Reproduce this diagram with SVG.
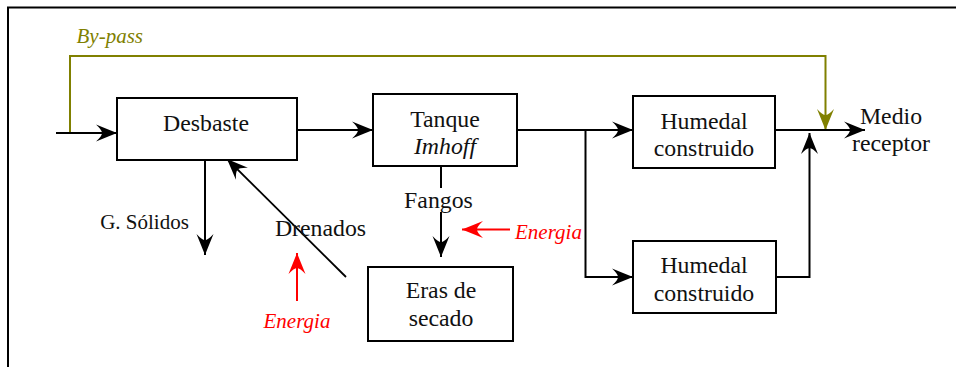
<svg xmlns="http://www.w3.org/2000/svg" width="956" height="367" viewBox="0 0 956 367">
<style>
  .box { fill: #fff; stroke: #000; stroke-width: 2; }
  .lbl { font-family: "Liberation Serif", "Times New Roman", serif; font-size: 23.8px; fill: #111; text-anchor: middle; }
  .it { font-style: italic; }
  .sm { font-size: 21px; }
  .line { fill: none; stroke: #000; stroke-width: 2; }
  .bp { fill: none; stroke: #808000; stroke-width: 2; }
  .red { fill: none; stroke: #ff0000; stroke-width: 2; }
  .energia { font-family: "Liberation Serif", "Times New Roman", serif; font-size: 21px; font-style: italic; fill: #ff0000; }
</style>
<defs>
  <marker id="ah" viewBox="-23 -10 24 20" markerWidth="24" markerHeight="20" refX="0" refY="0" orient="auto" markerUnits="userSpaceOnUse">
    <path d="M0,0 Q-10,-4 -21,-8.5 Q-15,-3 -15,0 Q-15,3 -21,8.5 Q-10,4 0,0 Z" fill="#000"/>
  </marker>
  <marker id="ahOlive" viewBox="-23 -10 24 20" markerWidth="24" markerHeight="20" refX="0" refY="0" orient="auto" markerUnits="userSpaceOnUse">
    <path d="M0,0 Q-10,-4 -21,-8.5 Q-15,-3 -15,0 Q-15,3 -21,8.5 Q-10,4 0,0 Z" fill="#808000"/>
  </marker>
  <marker id="ahRed" viewBox="-23 -10 24 20" markerWidth="24" markerHeight="20" refX="0" refY="0" orient="auto" markerUnits="userSpaceOnUse">
    <path d="M0,0 Q-10,-4 -21,-8.5 Q-15,-3 -15,0 Q-15,3 -21,8.5 Q-10,4 0,0 Z" fill="#ff0000"/>
  </marker>
</defs>

<rect width="956" height="367" fill="#fff"/>
<!-- frame -->
<path d="M8,367 V7.5 H956" fill="none" stroke="#000" stroke-width="2"/>

<g id="connectors">
  <!-- bypass -->
  <path class="bp" d="M70,133 V56 H825.5 V130" marker-end="url(#ahOlive)"/>
  <text x="76.5" y="43" class="lbl it sm" style="text-anchor:start; fill:#808000">By-pass</text>
  <!-- input -->
  <path class="line" d="M56,133 H117" marker-end="url(#ah)"/>
  <!-- Desbaste -> Tanque -->
  <path class="line" d="M297,130 H373" marker-end="url(#ah)"/>
  <!-- Tanque -> Humedal 1 -->
  <path class="line" d="M517,130 H633" marker-end="url(#ah)"/>
  <!-- branch to Humedal 2 -->
  <path class="line" d="M585.5,130 V277 H633" marker-end="url(#ah)"/>
  <!-- Humedal 1 -> Medio -->
  <path class="line" d="M775,130 H865" marker-end="url(#ah)"/>
  <!-- Humedal 2 -> join -->
  <path class="line" d="M776,277 H809.5 V133" marker-end="url(#ah)"/>
  <!-- Desbaste -> G. Solidos -->
  <path class="line" d="M205,160 V255" marker-end="url(#ah)"/>
  <text x="144.5" y="229" class="lbl sm">G. Sólidos</text>
  <!-- Drenados diagonal -->
  <path class="line" d="M346,277 L227,159" style="stroke-width:1.8" marker-end="url(#ah)"/>
  <text x="320.5" y="236" class="lbl">Drenados</text>
  <!-- Fangos -->
  <path class="line" d="M441,166 V188"/>
  <path class="line" d="M441,212 V257" marker-end="url(#ah)"/>
  <text x="438.5" y="208" class="lbl">Fangos</text>
  <!-- Energia arrows -->
  <path class="red" d="M297,301 V253" marker-end="url(#ahRed)"/>
  <text x="297" y="328" class="energia" text-anchor="middle">Energia</text>
  <path class="red" d="M510,229.5 H462" marker-end="url(#ahRed)"/>
  <text x="515" y="239" class="energia">Energia</text>
</g>

<g id="desbaste">
  <rect class="box" x="117" y="98" width="180" height="62"/>
  <text x="206" y="131" class="lbl">Desbaste</text>
</g>
<g id="tanque">
  <rect class="box" x="373" y="94" width="144" height="72"/>
  <text x="445" y="127" class="lbl">Tanque</text>
  <text x="445" y="154" class="lbl it">Imhoff</text>
</g>
<g id="humedal1">
  <rect class="box" x="633" y="96" width="142" height="72"/>
  <text x="704" y="129" class="lbl">Humedal</text>
  <text x="704" y="155.5" class="lbl">construido</text>
</g>
<g id="humedal2">
  <rect class="box" x="633" y="241" width="143" height="72"/>
  <text x="704" y="273" class="lbl">Humedal</text>
  <text x="704" y="301" class="lbl">construido</text>
</g>
<g id="eras">
  <rect class="box" x="368" y="267" width="145" height="74"/>
  <text x="441" y="298" class="lbl">Eras de</text>
  <text x="441" y="326" class="lbl">secado</text>
</g>
<g id="medio">
  <text x="891" y="124" class="lbl">Medio</text>
  <text x="891" y="151" class="lbl">receptor</text>
</g>
</svg>
